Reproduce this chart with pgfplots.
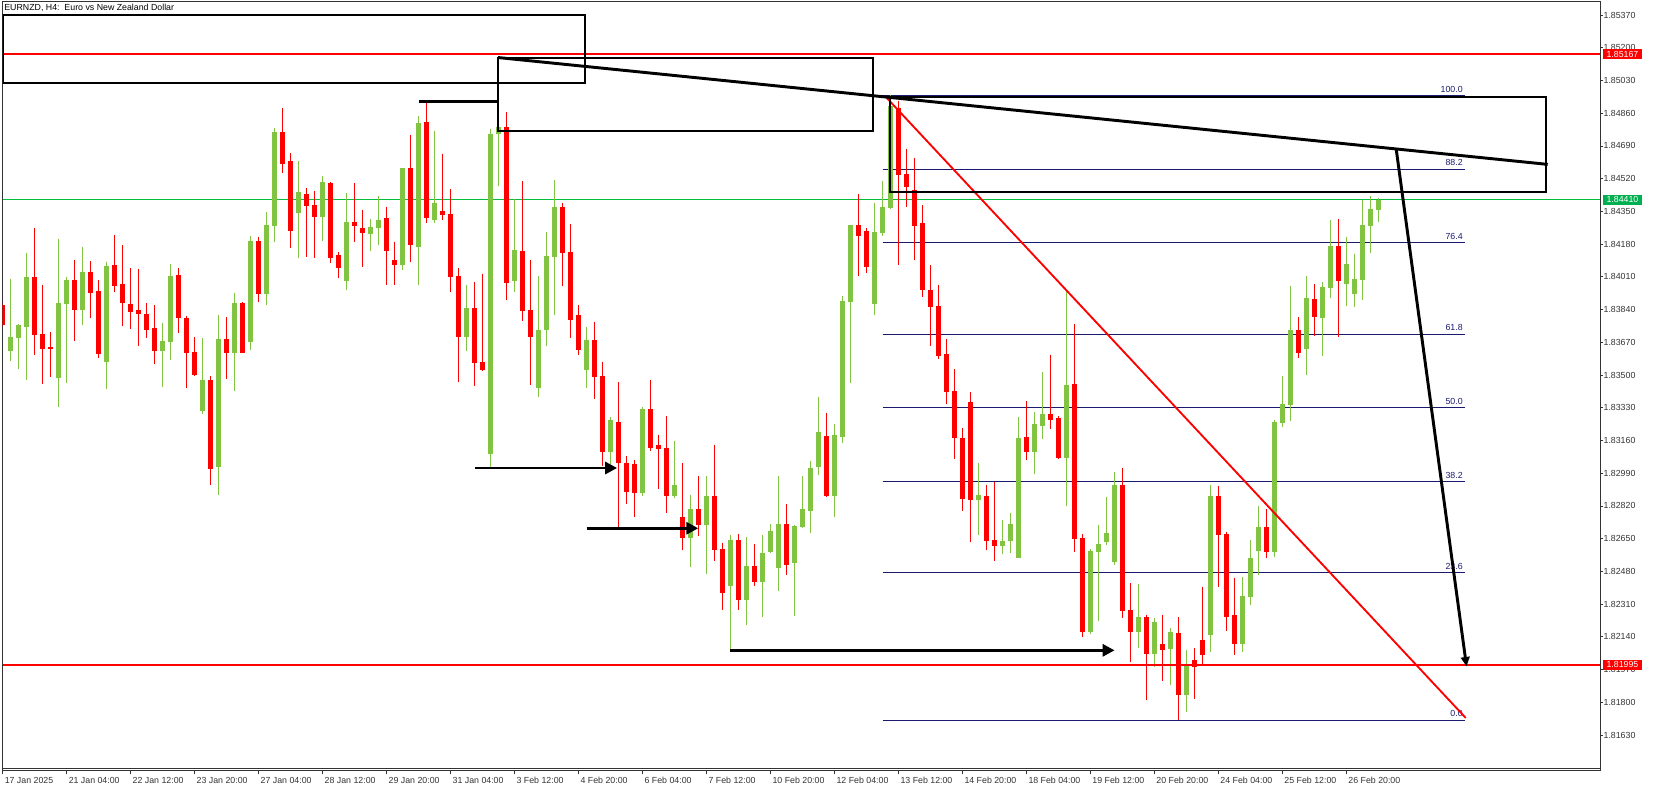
\documentclass[border=0pt]{standalone}
\usepackage{pgfplots}
\pgfplotsset{compat=1.18}
\usepackage{pgfplotstable}
\usepackage{fontspec}
\setmainfont{Liberation Sans}
\usetikzlibrary{arrows.meta}

\definecolor{cgreen}{RGB}{128,196,66}
\definecolor{cred}{RGB}{255,0,0}
\definecolor{bidgreen}{RGB}{0,190,60}
\definecolor{boxgreen}{RGB}{0,176,80}
\definecolor{fibblue}{RGB}{25,25,112}
\definecolor{axgray}{RGB}{50,50,50}
\newcommand{\fs}{\fontsize{6.6}{7.9}\selectfont}

% bullish candles: bar index, open, high, low, close
\pgfplotstableread{
i o h l c
1 1.83625 1.83999 1.83575 1.83698
2 1.83694 1.83763 1.83533 1.83760
3 1.83750 1.84134 1.83476 1.84009
7 1.83486 1.84207 1.83336 1.83874
8 1.83869 1.84009 1.83460 1.83994
10 1.83838 1.84165 1.83760 1.84035
13 1.83569 1.84087 1.83429 1.84066
20 1.83627 1.83770 1.83440 1.83677
21 1.83673 1.84077 1.83580 1.84014
25 1.83315 1.83692 1.83299 1.83474
27 1.83024 1.83812 1.82877 1.83687
29 1.83616 1.83926 1.83419 1.83874
31 1.83673 1.84222 1.83632 1.84196
33 1.83923 1.84347 1.83866 1.84279
34 1.84276 1.84783 1.84193 1.84762
37 1.84343 1.84612 1.84110 1.84451
40 1.84323 1.84534 1.84198 1.84503
43 1.83990 1.84445 1.83943 1.84295
46 1.84234 1.84310 1.84146 1.84269
47 1.84265 1.84430 1.84177 1.84305
50 1.84073 1.84575 1.84047 1.84575
52 1.84167 1.84845 1.83969 1.84809
54 1.84307 1.84767 1.84291 1.84394
58 1.83699 1.83968 1.83627 1.83848
61 1.83092 1.84780 1.83014 1.84754
62 1.84754 1.84795 1.84483 1.84788
64 1.83988 1.84415 1.83932 1.84149
67 1.83435 1.84014 1.83385 1.83734
68 1.83734 1.84242 1.83652 1.84118
69 1.84112 1.84513 1.83812 1.84372
73 1.83526 1.83749 1.83433 1.83682
76 1.83099 1.83281 1.83038 1.83266
80 1.82888 1.83333 1.82871 1.83324
84 1.82871 1.83157 1.82862 1.82929
86 1.82656 1.82877 1.82504 1.82805
88 1.82723 1.82973 1.82467 1.82871
91 1.82402 1.82669 1.82075 1.82643
93 1.82333 1.82658 1.82201 1.82508
95 1.82425 1.82669 1.82241 1.82576
96 1.82582 1.82727 1.82573 1.82690
97 1.82500 1.82978 1.82380 1.82727
99 1.82526 1.82721 1.82250 1.82715
100 1.82712 1.82976 1.82703 1.82805
101 1.82795 1.83053 1.82680 1.83018
102 1.83020 1.83385 1.82981 1.83203
104 1.82871 1.83246 1.82764 1.83189
105 1.83179 1.83910 1.83148 1.83884
106 1.83880 1.84279 1.83459 1.84279
109 1.83871 1.84394 1.83812 1.84242
110 1.84238 1.84507 1.84224 1.84372
111 1.84368 1.84952 1.84363 1.84897
122 1.82853 1.83043 1.82671 1.82877
125 1.82614 1.82747 1.82572 1.82638
126 1.82640 1.82783 1.82577 1.82726
127 1.82551 1.83282 1.82551 1.83173
129 1.83098 1.83308 1.82988 1.83246
130 1.83237 1.83516 1.83170 1.83298
133 1.83071 1.83942 1.82822 1.83448
136 1.82167 1.82596 1.82157 1.82586
137 1.82583 1.82721 1.82223 1.82622
138 1.82635 1.82867 1.82619 1.82680
139 1.82531 1.82996 1.82515 1.82929
142 1.82167 1.82414 1.82084 1.82243
144 1.82053 1.82238 1.81985 1.82219
146 1.82079 1.82186 1.81892 1.82165
148 1.81838 1.82072 1.81750 1.81994
151 1.82150 1.82929 1.82062 1.82872
155 1.82105 1.82451 1.82062 1.82352
156 1.82349 1.82643 1.82306 1.82550
157 1.82588 1.82820 1.82459 1.82711
159 1.82581 1.83266 1.82557 1.83256
160 1.83253 1.83495 1.83232 1.83350
161 1.83344 1.83962 1.83263 1.83734
163 1.83637 1.84014 1.83502 1.83900
165 1.83798 1.83983 1.83601 1.83957
166 1.83954 1.84305 1.83902 1.84170
168 1.83975 1.84217 1.83860 1.84077
169 1.83923 1.84129 1.83855 1.83999
170 1.83995 1.84409 1.83891 1.84279
171 1.84276 1.84430 1.84136 1.84362
172 1.84359 1.84420 1.84297 1.84410
}\bull

% bearish candles: bar index, open, high, low, close
\pgfplotstableread{
i o h l c
0 1.83864 1.83872 1.83751 1.83760
4 1.84009 1.84264 1.83604 1.83708
5 1.83713 1.83968 1.83455 1.83635
6 1.83646 1.83724 1.83492 1.83635
9 1.83994 1.84097 1.83679 1.83838
11 1.84035 1.84092 1.83796 1.83928
12 1.83936 1.83994 1.83590 1.83611
14 1.84072 1.84227 1.83933 1.83964
15 1.83973 1.84175 1.83756 1.83872
16 1.83870 1.84056 1.83741 1.83829
17 1.83838 1.84051 1.83653 1.83819
18 1.83817 1.83874 1.83694 1.83736
19 1.83744 1.83864 1.83559 1.83627
22 1.84020 1.84056 1.83720 1.83798
23 1.83796 1.83807 1.83434 1.83616
24 1.83620 1.83698 1.83497 1.83502
26 1.83474 1.83495 1.82931 1.83014
28 1.83687 1.83801 1.83481 1.83616
30 1.83874 1.83879 1.83613 1.83616
32 1.84196 1.84217 1.83881 1.83923
35 1.84762 1.84887 1.84551 1.84598
36 1.84612 1.84653 1.84162 1.84250
38 1.84440 1.84471 1.84115 1.84380
39 1.84383 1.84456 1.84110 1.84323
41 1.84497 1.84503 1.84084 1.84110
42 1.84123 1.84139 1.84006 1.84058
44 1.84295 1.84497 1.84193 1.84276
45 1.84264 1.84357 1.84063 1.84239
48 1.84316 1.84373 1.83969 1.84146
49 1.84097 1.84191 1.83969 1.84073
51 1.84575 1.84747 1.84089 1.84177
53 1.84814 1.84918 1.84291 1.84317
55 1.84352 1.84648 1.84307 1.84333
56 1.84336 1.84466 1.83933 1.84011
57 1.84014 1.84056 1.83466 1.83699
59 1.83848 1.83983 1.83445 1.83564
60 1.83567 1.84025 1.83521 1.83526
63 1.84788 1.84865 1.83890 1.83979
65 1.84144 1.84507 1.83780 1.83832
66 1.83838 1.84097 1.83448 1.83697
70 1.84372 1.84394 1.83962 1.84135
71 1.84138 1.84285 1.83693 1.83786
72 1.83812 1.83864 1.83604 1.83630
74 1.83682 1.83775 1.83376 1.83489
75 1.83495 1.83567 1.83027 1.83099
77 1.83255 1.83463 1.82710 1.83044
78 1.83044 1.83079 1.82831 1.82892
79 1.83038 1.83059 1.82760 1.82888
81 1.83324 1.83474 1.83105 1.83122
82 1.83137 1.83189 1.82908 1.83116
83 1.83122 1.83287 1.82784 1.82871
85 1.82762 1.83042 1.82593 1.82656
87 1.82805 1.82978 1.82665 1.82723
89 1.82871 1.83137 1.82532 1.82593
90 1.82597 1.82628 1.82281 1.82370
92 1.82643 1.82675 1.82281 1.82333
94 1.82508 1.82623 1.82402 1.82425
98 1.82727 1.82831 1.82463 1.82515
103 1.83183 1.83304 1.82866 1.82871
107 1.84279 1.84441 1.84014 1.84224
108 1.84248 1.84264 1.84031 1.84059
112 1.84888 1.84925 1.84071 1.84539
113 1.84545 1.84674 1.84374 1.84478
114 1.84461 1.84628 1.84097 1.84274
115 1.84290 1.84383 1.83905 1.83942
116 1.83942 1.84071 1.83650 1.83853
117 1.83858 1.83968 1.83585 1.83598
118 1.83609 1.83687 1.83351 1.83414
119 1.83417 1.83531 1.83066 1.83175
120 1.83173 1.83225 1.82796 1.82858
121 1.83360 1.83412 1.82635 1.82853
123 1.82872 1.82929 1.82593 1.82640
124 1.82645 1.82946 1.82536 1.82614
128 1.83178 1.83365 1.83060 1.83098
131 1.83298 1.83604 1.83221 1.83268
132 1.83277 1.83287 1.83066 1.83071
134 1.83453 1.83765 1.82583 1.82650
135 1.82654 1.82674 1.82141 1.82167
140 1.82929 1.83017 1.82240 1.82276
141 1.82280 1.82419 1.82011 1.82167
143 1.82243 1.82254 1.81814 1.82053
145 1.82103 1.82254 1.81913 1.82074
147 1.82160 1.82243 1.81708 1.81840
149 1.82020 1.82082 1.81817 1.81984
150 1.82124 1.82399 1.81994 1.82046
152 1.82872 1.82924 1.82399 1.82669
153 1.82674 1.82685 1.82171 1.82243
154 1.82254 1.82447 1.82046 1.82105
158 1.82711 1.82804 1.82551 1.82581
162 1.83734 1.83801 1.83590 1.83616
164 1.83895 1.83973 1.83705 1.83803
167 1.84170 1.84310 1.83699 1.83990
}\bear

\pgfplotsset{candle/.style={only marks, mark=*, mark size=0pt,
  mark options={draw=none, fill=none}, forget plot,
  error bars/y dir=minus, error bars/y explicit, error bars/error mark=none}}

\begin{document}
\begin{tikzpicture}
\useasboundingbox (-1.875pt,-15pt) rectangle (1237.875pt,578.25pt);
\begin{axis}[
  at={(0pt,0pt)}, anchor=south west,
  scale only axis, width=1198.125pt, height=576.75pt,
  xmin=-0.05, xmax=199.69, ymin=1.814433, ymax=1.854375,
  axis line style={axgray, line width=0.75pt},
  tick style={axgray, line width=0.6pt},
  tick align=outside, major tick length=2.5pt,
  xtick pos=bottom, ytick pos=right, yticklabel pos=right,
  xtick={0,8,...,168},
  xticklabels={17 Jan 2025,21 Jan 04:00,22 Jan 12:00,23 Jan 20:00,27 Jan 04:00,28 Jan 12:00,29 Jan 20:00,31 Jan 04:00,3 Feb 12:00,4 Feb 20:00,6 Feb 04:00,7 Feb 12:00,10 Feb 20:00,12 Feb 04:00,13 Feb 12:00,14 Feb 20:00,18 Feb 04:00,19 Feb 12:00,20 Feb 20:00,24 Feb 04:00,25 Feb 12:00,26 Feb 20:00},
  ytick={1.8163,1.818,1.8197,1.8214,1.8231,1.8248,1.8265,1.8282,1.8299,1.8316,1.8333,1.835,1.8367,1.8384,1.8401,1.8418,1.8435,1.8452,1.8469,1.8486,1.8503,1.852,1.8537},
  yticklabels={1.81630,1.81800,1.81970,1.82140,1.82310,1.82480,1.82650,1.82820,1.82990,1.83160,1.83330,1.83500,1.83670,1.83840,1.84010,1.84180,1.84350,1.84520,1.84690,1.84860,1.85030,1.85200,1.85370},
  ticklabel style={font=\fs, text=axgray},
  xticklabel style={anchor=north west, inner sep=0pt, xshift=1.2pt, yshift=-2.2pt},
  yticklabel style={anchor=west, inner sep=0pt},
  clip=true,
]
% horizontal levels
\addplot[bidgreen, line width=0.75pt, forget plot] coordinates {(-0.05,1.84410) (199.69,1.84410)};
% fibonacci levels
\addplot[fibblue, line width=0.75pt, forget plot] coordinates {(110,1.84952) (182.8,1.84952)};
\addplot[fibblue, line width=0.75pt, forget plot] coordinates {(110,1.84570) (182.8,1.84570)};
\addplot[fibblue, line width=0.75pt, forget plot] coordinates {(110,1.84187) (182.8,1.84187)};
\addplot[fibblue, line width=0.75pt, forget plot] coordinates {(110,1.83713) (182.8,1.83713)};
\addplot[fibblue, line width=0.75pt, forget plot] coordinates {(110,1.83330) (182.8,1.83330)};
\addplot[fibblue, line width=0.75pt, forget plot] coordinates {(110,1.82948) (182.8,1.82948)};
\addplot[fibblue, line width=0.75pt, forget plot] coordinates {(110,1.82474) (182.8,1.82474)};
\addplot[fibblue, line width=0.75pt, forget plot] coordinates {(110,1.81708) (182.8,1.81708)};
\node[anchor=south east, inner sep=0pt, xshift=-1.5pt, yshift=2.2pt, text=fibblue, font=\fs] at (axis cs:182.8,1.84952) {100.0};
\node[anchor=south east, inner sep=0pt, xshift=-1.5pt, yshift=2.2pt, text=fibblue, font=\fs] at (axis cs:182.8,1.84570) {88.2};
\node[anchor=south east, inner sep=0pt, xshift=-1.5pt, yshift=2.2pt, text=fibblue, font=\fs] at (axis cs:182.8,1.84187) {76.4};
\node[anchor=south east, inner sep=0pt, xshift=-1.5pt, yshift=2.2pt, text=fibblue, font=\fs] at (axis cs:182.8,1.83713) {61.8};
\node[anchor=south east, inner sep=0pt, xshift=-1.5pt, yshift=2.2pt, text=fibblue, font=\fs] at (axis cs:182.8,1.83330) {50.0};
\node[anchor=south east, inner sep=0pt, xshift=-1.5pt, yshift=2.2pt, text=fibblue, font=\fs] at (axis cs:182.8,1.82948) {38.2};
\node[anchor=south east, inner sep=0pt, xshift=-1.5pt, yshift=2.2pt, text=fibblue, font=\fs] at (axis cs:182.8,1.82474) {23.6};
\node[anchor=south east, inner sep=0pt, xshift=-1.5pt, yshift=2.2pt, text=fibblue, font=\fs] at (axis cs:182.8,1.81708) {0.0};

% candles: wicks then bodies
\addplot[candle, error bars/error bar style={cgreen, line width=0.75pt}]
  table[x=i, y=h, y error minus expr={\thisrow{h}-\thisrow{l}}] {\bull};
\addplot[candle, error bars/error bar style={cgreen, line width=3.75pt}]
  table[x=i, y=c, y error minus expr={max(\thisrow{c}-\thisrow{o},0.00004)}] {\bull};
\addplot[candle, error bars/error bar style={cred, line width=0.75pt}]
  table[x=i, y=h, y error minus expr={\thisrow{h}-\thisrow{l}}] {\bear};
\addplot[candle, error bars/error bar style={cred, line width=3.75pt}]
  table[x=i, y=o, y error minus expr={max(\thisrow{o}-\thisrow{c},0.00004)}] {\bear};

% red support / resistance
\addplot[cred, line width=1.5pt, forget plot] coordinates {(-0.05,1.85167) (199.69,1.85167)};
\addplot[cred, line width=1.5pt, forget plot] coordinates {(-0.05,1.81995) (199.69,1.81995)};
% red diagonal
\addplot[cred, line width=1.4pt, forget plot] coordinates {(110.4,1.84944) (182.9,1.81719)};

% black zones
\draw[black, line width=1.5pt] (axis cs:-0.05,1.85370) rectangle (axis cs:72.84,1.85019);
\draw[black, line width=1.5pt] (axis cs:61.9,1.85149) rectangle (axis cs:108.8,1.84769);
\draw[black, line width=1.5pt] (axis cs:110.9,1.84942) rectangle (axis cs:192.96,1.84452);
% trendline
\addplot[black, line width=2.2pt, forget plot] coordinates {(61.9,1.85149) (193.15,1.84594)};
% short level line
\addplot[black, line width=2.2pt, forget plot] coordinates {(52.0,1.84922) (61.9,1.84922)};
% arrows
\addplot[black, line width=2.2pt, forget plot, -{Triangle[length=9pt,width=9pt]}] coordinates {(59.0,1.83017) (76.8,1.83017)};
\addplot[black, line width=2.2pt, forget plot, -{Triangle[length=9pt,width=9pt]}] coordinates {(73.0,1.82704) (86.95,1.82704)};
\addplot[black, line width=2.2pt, forget plot, -{Triangle[length=9pt,width=9pt]}] coordinates {(90.9,1.82070) (139.0,1.82070)};
\addplot[black, line width=2.2pt, forget plot, -{Triangle[length=7pt,width=6.5pt]}] coordinates {(174.2,1.84676) (183.0,1.81987)};

% bottom separator line and title
\draw[axgray, line width=0.6pt] ([yshift=1.6pt]rel axis cs:0,0) -- ([yshift=1.6pt]rel axis cs:1,0);
\node[anchor=north west, inner sep=0pt, xshift=1.2pt, yshift=-1.2pt, font=\fs, text=black] at (rel axis cs:0,1) {EURNZD, H4:\ \ Euro vs New Zealand Dollar};

\coordinate (pr1) at (axis cs:199.69,1.85167);
\coordinate (pg) at (axis cs:199.69,1.84410);
\coordinate (pr2) at (axis cs:199.69,1.81995);
\end{axis}
\node[fill=cred, text=white, font=\fs, anchor=west, inner sep=0pt, minimum width=29.25pt, minimum height=7.5pt] at ([xshift=2pt]pr1) {1.85167};
\node[fill=boxgreen, text=white, font=\fs, anchor=west, inner sep=0pt, minimum width=29.25pt, minimum height=7.5pt] at ([xshift=2pt]pg) {1.84410};
\node[fill=cred, text=white, font=\fs, anchor=west, inner sep=0pt, minimum width=29.25pt, minimum height=7.5pt] at ([xshift=2pt]pr2) {1.81995};
\end{tikzpicture}
\end{document}
